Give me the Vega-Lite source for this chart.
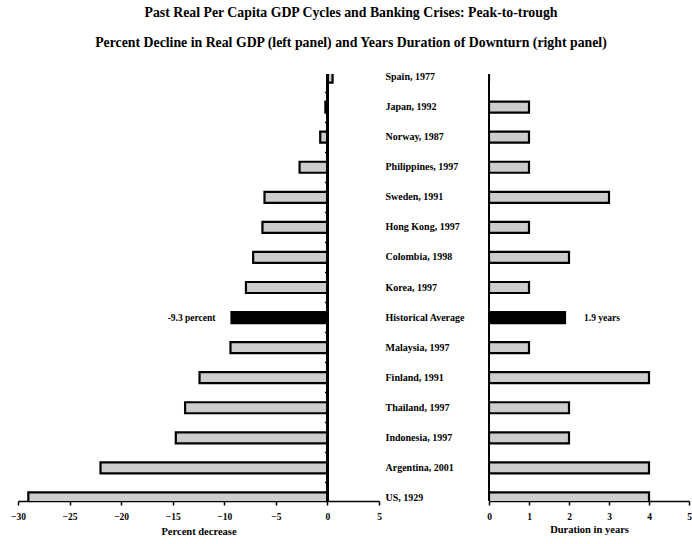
{
  "$schema": "https://vega.github.io/schema/vega-lite/v6.json",
  "padding": {"left": 10, "top": 5, "right": 0, "bottom": 0},
  "background": "white",
  "title": {
    "text": ["Past Real Per Capita GDP Cycles and Banking Crises: Peak-to-trough", "Percent Decline in Real GDP (left panel) and Years Duration of Downturn (right panel)"],
    "font": "Liberation Serif",
    "fontSize": 13.8,
    "fontWeight": "bold",
    "lineHeight": 30,
    "anchor": "middle",
    "offset": 22,
    "color": "black"
  },
  "config": {
    "view": {"stroke": null},
    "font": "Liberation Serif",
    "axis": {
      "labelFont": "Liberation Serif",
      "titleFont": "Liberation Serif",
      "labelColor": "black",
      "titleColor": "black",
      "domainColor": "black",
      "tickColor": "black",
      "grid": false,
      "labelFontSize": 9.5,
      "titleFontSize": 10.5,
      "titleFontWeight": "bold",
      "labelFontWeight": "bold",
      "domainWidth": 1.5,
      "tickWidth": 1.5
    }
  },
  "data": {
    "values": [
      {"country": "Spain, 1977", "decline": 0.5, "years": 0, "type": "Country"},
      {"country": "Japan, 1992", "decline": -0.2, "years": 1, "type": "Country"},
      {"country": "Norway, 1987", "decline": -0.7, "years": 1, "type": "Country"},
      {"country": "Philippines, 1997", "decline": -2.7, "years": 1, "type": "Country"},
      {"country": "Sweden, 1991", "decline": -6.1, "years": 3, "type": "Country"},
      {"country": "Hong Kong, 1997", "decline": -6.3, "years": 1, "type": "Country"},
      {"country": "Colombia, 1998", "decline": -7.2, "years": 2, "type": "Country"},
      {"country": "Korea, 1997", "decline": -7.9, "years": 1, "type": "Country"},
      {"country": "Historical Average", "decline": -9.3, "years": 1.9, "type": "Average", "leftNote": "-9.3 percent", "rightNote": "1.9 years"},
      {"country": "Malaysia, 1997", "decline": -9.4, "years": 1, "type": "Country"},
      {"country": "Finland, 1991", "decline": -12.4, "years": 4, "type": "Country"},
      {"country": "Thailand, 1997", "decline": -13.8, "years": 2, "type": "Country"},
      {"country": "Indonesia, 1997", "decline": -14.7, "years": 2, "type": "Country"},
      {"country": "Argentina, 2001", "decline": -22.0, "years": 4, "type": "Country"},
      {"country": "US, 1929", "decline": -29.0, "years": 4, "type": "Country"}
    ]
  },
  "bounds": "flush",
  "spacing": 110,
  "hconcat": [
    {
      "width": 361,
      "height": 427,
      "layer": [
        {
          "mark": {"type": "bar", "height": 11, "stroke": "black", "strokeWidth": 2.2, "clip": true},
          "encoding": {
            "y": {
              "field": "country", "type": "nominal", "sort": null,
              "scale": {"type": "band", "paddingInner": 0, "paddingOuter": 0, "range": [-12, 439]},
              "axis": {"orient": "left", "offset": -309.43, "labels": false, "title": null, "domain": false, "bandPosition": 1, "tickSize": 3,
                "values": ["Spain, 1977", "Japan, 1992", "Norway, 1987", "Philippines, 1997", "Sweden, 1991", "Hong Kong, 1997", "Colombia, 1998", "Korea, 1997", "Historical Average", "Malaysia, 1997", "Finland, 1991", "Thailand, 1997", "Indonesia, 1997", "Argentina, 2001"]}
            },
            "x": {
              "field": "decline", "type": "quantitative",
              "scale": {"domain": [-30, 5], "nice": false, "zero": true},
              "axis": {"values": [-30, -25, -20, -15, -10, -5, 0, 5], "title": "Percent decrease", "tickSize": 4, "labelPadding": 6, "titlePadding": 6, "labelFlush": false, "labelOverlap": false}
            },
            "fill": {"field": "type", "type": "nominal", "scale": {"domain": ["Country", "Average"], "range": ["#cdcdcd", "black"]}, "legend": null}
          }
        },
        {
          "mark": {"type": "rule", "color": "black", "strokeWidth": 2},
          "encoding": {"x": {"datum": 0, "type": "quantitative"}}
        },
        {
          "transform": [{"filter": "isValid(datum.leftNote)"}],
          "mark": {"type": "text", "align": "right", "baseline": "middle", "dx": -16, "fontSize": 9.5, "fontWeight": "bold", "font": "Liberation Serif", "color": "black"},
          "encoding": {
            "y": {"field": "country", "type": "nominal", "sort": null},
            "x": {"field": "decline", "type": "quantitative"},
            "text": {"field": "leftNote"}
          }
        }
      ]
    },
    {
      "width": 200,
      "height": 427,
      "layer": [
        {
          "mark": {"type": "bar", "height": 11, "stroke": "black", "strokeWidth": 2.2, "clip": true},
          "encoding": {
            "y": {
              "field": "country", "type": "nominal", "sort": null,
              "scale": {"type": "band", "paddingInner": 0, "paddingOuter": 0, "range": [-12, 439]},
              "axis": {"orient": "left", "title": null, "ticks": false, "tickSize": 0, "domain": false, "labelAlign": "left", "labelPadding": 104, "labelFontSize": 10, "labelOverlap": false}
            },
            "x": {
              "field": "years", "type": "quantitative",
              "scale": {"domain": [0, 5], "nice": false},
              "axis": {"values": [0, 1, 2, 3, 4, 5], "tickCount": 6, "title": "Duration in years", "tickSize": 4, "labelPadding": 6, "titlePadding": 4, "labelFlush": false, "labelOverlap": false}
            },
            "fill": {"field": "type", "type": "nominal", "scale": {"domain": ["Country", "Average"], "range": ["#cdcdcd", "black"]}, "legend": null}
          }
        },
        {
          "mark": {"type": "rule", "color": "black", "strokeWidth": 1.5},
          "encoding": {"x": {"datum": 0, "type": "quantitative", "axis": {"values": [0, 1, 2, 3, 4, 5], "tickCount": 6, "title": "Duration in years", "tickSize": 4, "labelPadding": 6, "titlePadding": 4, "labelFlush": false, "labelOverlap": false}}}
        },
        {
          "transform": [{"filter": "isValid(datum.rightNote)"}],
          "mark": {"type": "text", "align": "left", "baseline": "middle", "dx": 19, "fontSize": 9.5, "fontWeight": "bold", "font": "Liberation Serif", "color": "black"},
          "encoding": {
            "y": {"field": "country", "type": "nominal", "sort": null},
            "x": {"field": "years", "type": "quantitative", "axis": {"values": [0, 1, 2, 3, 4, 5], "tickCount": 6, "title": "Duration in years", "tickSize": 4, "labelPadding": 6, "titlePadding": 4, "labelFlush": false, "labelOverlap": false}},
            "text": {"field": "rightNote"}
          }
        }
      ]
    }
  ]
}
